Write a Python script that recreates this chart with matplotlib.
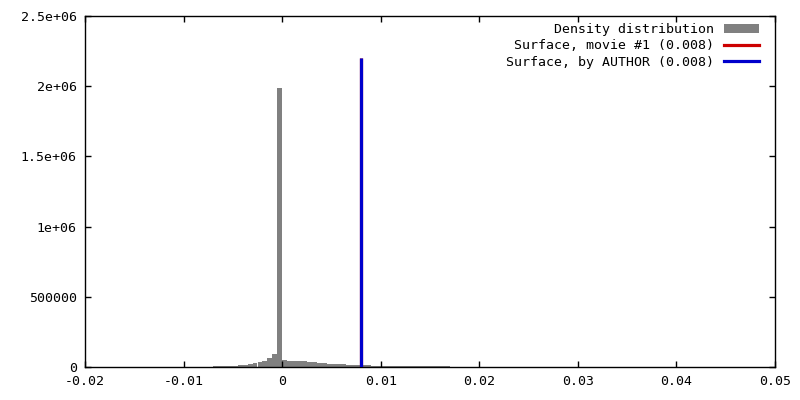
import matplotlib
matplotlib.use('Agg')
import matplotlib.pyplot as plt
import numpy as np
from matplotlib.patches import Patch
from matplotlib.lines import Line2D

# histogram of density values (bin edges start at bin_start, fixed width)
bin_start = -0.007
bin_width = 0.0005
counts = [
    5000, 6000, 6000, 6000, 6000, 12000, 12000, 18000, 25000, 35000,
    45000, 62000, 93000, 1990000,
    50000, 46000, 45000, 44000, 43000, 37000, 36000, 29000, 28000,
    22000, 21000, 20000, 19000, 15000, 14000, 13000, 12000, 11000, 10000,
    7000, 7000, 6500, 6500, 6000, 6000, 6000, 5500, 5500, 5000, 5000,
    5000, 4500, 4500, 4000,
]

surface_movie = 0.008
surface_author = 0.008
surface_height = 2.2e6

xticks = [-0.02, -0.01, 0, 0.01, 0.02, 0.03, 0.04, 0.05]
xticklabels = ['-0.02', '-0.01', '0', '0.01', '0.02', '0.03', '0.04', '0.05']
yticks = [0, 500000, 1000000, 1500000, 2000000, 2500000]
yticklabels = ['0', '500000', '1e+06', '1.5e+06', '2e+06', '2.5e+06']

labels = ['Density distribution', 'Surface, movie #1 (0.008)', 'Surface, by AUTHOR (0.008)']

plt.rcParams['font.family'] = 'DejaVu Sans Mono'

fig = plt.figure(figsize=(8, 4), dpi=100)
ax = fig.add_axes([85/800, 1-367/400, 690/800, 351/400])

edges = bin_start + bin_width*np.arange(len(counts))
ax.bar(edges, counts, width=bin_width, align='edge', color='#808080', linewidth=0, zorder=1)

ax.plot([surface_movie, surface_movie], [0, surface_height], color='#cc0000', lw=2.3, zorder=2,
        solid_capstyle='butt')
ax.plot([surface_author, surface_author], [0, surface_height], color='#0000cc', lw=2.3, zorder=3,
        solid_capstyle='butt')

ax.set_xlim(-0.02, 0.05)
ax.set_ylim(0, 2.5e6)
ax.set_xticks(xticks)
ax.set_xticklabels(xticklabels)
ax.set_yticks(yticks)
ax.set_yticklabels(yticklabels)
ax.tick_params(direction='in', length=4, width=1, top=True, right=True, labelsize=9.5, pad=6)
for s in ax.spines.values():
    s.set_linewidth(1)

handles = [Patch(facecolor='#808080', edgecolor='none'),
           Line2D([], [], color='#cc0000', lw=2.3),
           Line2D([], [], color='#0000cc', lw=2.3)]
ax.legend(handles, labels, loc='upper right', frameon=False, markerfirst=False, fontsize=9.5,
          handlelength=2.6, handleheight=0.6, labelspacing=0.25, handletextpad=0.8,
          borderaxespad=0.0, bbox_to_anchor=(0.984, 0.995))

fig.savefig('out.png', dpi=100)
